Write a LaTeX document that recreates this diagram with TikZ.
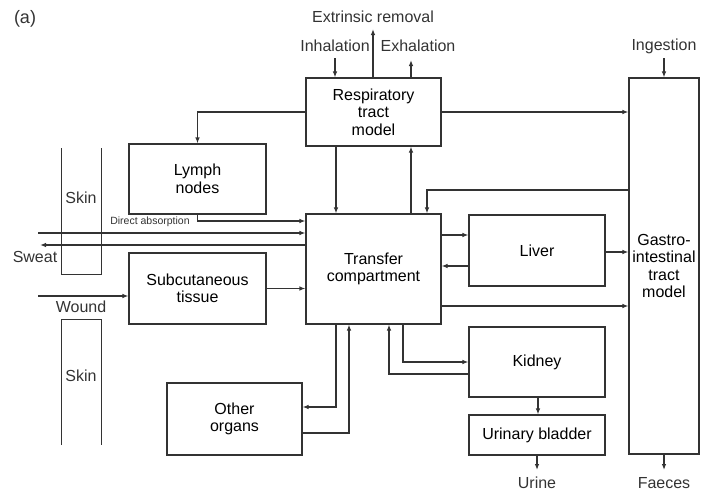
\documentclass[tikz,border=0pt]{standalone}
\usepackage{fontspec}
\setmainfont{Liberation Sans}
\usetikzlibrary{arrows.meta}
\definecolor{ink}{gray}{0.2}
\begin{document}
\begin{tikzpicture}[x=1pt,y=-1pt,
    box/.style={draw=ink, line width=1.1pt, align=center, inner sep=0pt},
    arr/.style={draw=ink, line width=1.1pt, -{Latex[length=6pt,width=4.5pt]}},
    lbl/.style={text=ink},
    font=\fontsize{16}{17.5}\selectfont]
  \useasboundingbox (0,0) rectangle (701,493);

  % Boxes
  \node[box, minimum width=135pt, minimum height=68pt] (resp) at (373.5,112) {Respiratory\\tract\\model};
  \node[box, minimum width=70pt, minimum height=376pt] (gi) at (664,266) {Gastro-\\intestinal\\tract\\model};
  \node[box, minimum width=137pt, minimum height=70pt] (lymph) at (197.5,179) {Lymph\\nodes};
  \node[box, minimum width=135pt, minimum height=110pt] (transfer) at (373.5,269) {Transfer\\compartment};
  \node[box, minimum width=137pt, minimum height=71pt] (subcut) at (197.5,288.5) {Subcutaneous\\tissue};
  \node[box, minimum width=135pt, minimum height=72pt] (other) at (234.5,419) {Other\\organs};
  \node[box, minimum width=136pt, minimum height=71pt] (liver) at (537,250.5) {Liver};
  \node[box, minimum width=136pt, minimum height=70pt] (kidney) at (537,362) {Kidney};
  \node[box, minimum width=136pt, minimum height=40pt] (bladder) at (537,435) {Urinary bladder};

  % Skin layers
  \draw[ink, line width=1pt] (61,148) -- (61,274) -- (101,274) -- (101,148);
  \draw[ink, line width=1pt] (61,445) -- (61,319) -- (101,319) -- (101,445);
  \node[lbl] (skinA) at (81,198) {Skin};
  \node[lbl] (skinB) at (81,376) {Skin};

  % Labels
  \node[lbl, font=\fontsize{18}{20}\selectfont] (panel) at (25,19) {(a)};
  \node[lbl] (extr) at (373,17) {Extrinsic removal};
  \node[lbl] (inh) at (335,46) {Inhalation};
  \node[lbl] (exh) at (418,46) {Exhalation};
  \node[lbl] (ing) at (664,46) {Ingestion};
  \node[lbl] (faeces) at (664,483) {Faeces};
  \node[lbl] (urine) at (537,483) {Urine};
  \node[lbl] (sweat) at (35,257) {Sweat};
  \node[lbl] (wound) at (81,307) {Wound};
  \node[lbl, font=\fontsize{10.5}{12}\selectfont] (direct) at (150,222) {Direct absorption};

  % Free ends
  \coordinate (extrtip) at (373,29);
  \coordinate (inhin) at (335,58);
  \coordinate (exhtip) at (411,60);
  \coordinate (ingin) at (664,58);
  \coordinate (faecestip) at (664,470);
  \coordinate (urinetip) at (537,470);
  \coordinate (absin) at (38,233);
  \coordinate (sweattip) at (40,245);
  \coordinate (woundin) at (38,296);

  % Respiratory tract
  \draw[arr] (extrtip |- resp.north) -- (extrtip);
  \draw[arr] (inhin) -- (inhin |- resp.north);
  \draw[arr] (exhtip |- resp.north) -- (exhtip);
  \draw[arr] (resp.west) -| (lymph.north);
  \draw[arr] (resp.east) -- (resp.east -| gi.west);
  \draw[arr] (336,0 |- resp.south) -- (336,0 |- transfer.north);
  \draw[arr] (411,0 |- transfer.north) -- (411,0 |- resp.south);

  % Gastro-intestinal tract
  \draw[arr] (ingin) -- (gi.north);
  \draw[arr] (gi.south) -- (faecestip);
  \draw[arr] (gi.west |- 0,190) -| (427,0 |- transfer.north);

  % Skin entries
  \draw[arr] (lymph.south) |- (transfer.west |- 0,221);
  \draw[arr] (absin) -- (transfer.west |- absin);
  \draw[arr] (transfer.west |- sweattip) -- (sweattip);
  \draw[arr] (woundin) -- (subcut.west |- woundin);
  \draw[arr] (subcut.east) -- (subcut.east -| transfer.west);

  % Liver
  \draw[arr] (transfer.east |- 0,235) -- (liver.west |- 0,235);
  \draw[arr] (liver.west |- 0,266) -- (transfer.east |- 0,266);
  \draw[arr] (liver.east |- 0,252) -- (gi.west |- 0,252);
  \draw[arr] (transfer.east |- 0,306) -- (gi.west |- 0,306);

  % Kidney and bladder
  \draw[arr] (403,0 |- transfer.south) |- (kidney.west);
  \draw[arr] (kidney.west |- 0,374) -| (389,0 |- transfer.south);
  \draw[arr] (kidney.south -| 538,0) -- (bladder.north -| 538,0);
  \draw[arr] (bladder.south) -- (urinetip);

  % Other organs
  \draw[arr] (336,0 |- transfer.south) |- (other.east |- 0,407);
  \draw[arr] (other.east |- 0,433) -| (349,0 |- transfer.south);
\end{tikzpicture}
\end{document}
